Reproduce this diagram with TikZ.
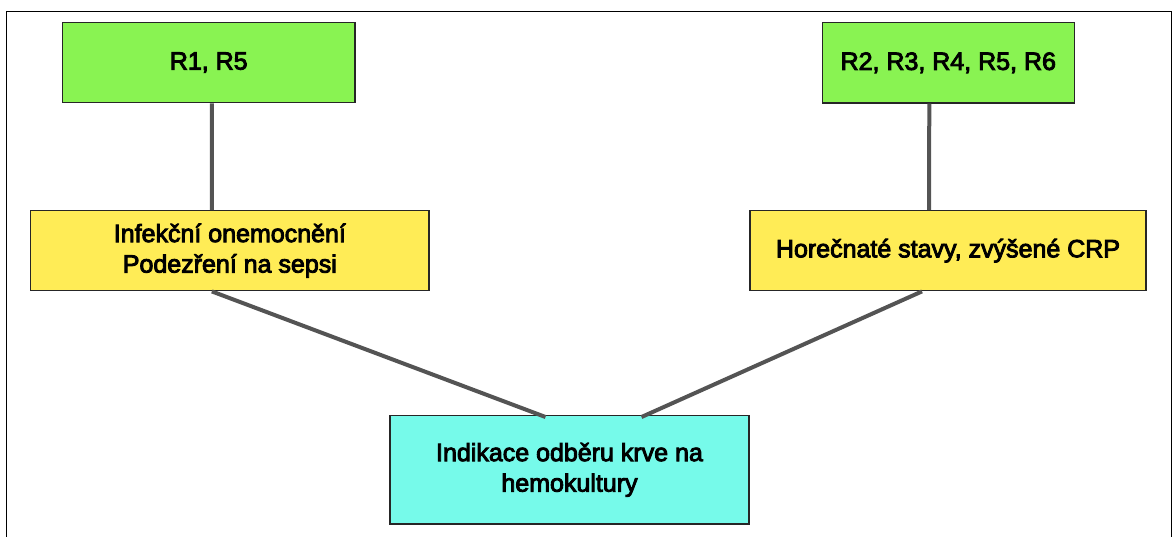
\documentclass[tikz,border=0pt]{standalone}
\usepackage{fontspec}
\setmainfont{Liberation Sans}[FakeBold=3.5]
\begin{document}
\begin{tikzpicture}[x=1pt,y=-1pt,
  box/.style={draw=black!85,line width=1.4pt,inner sep=0pt,align=center,
    font=\fontsize{25}{30.5}\selectfont},
  link/.style={draw=black!67,line width=4pt}]
\definecolor{boxgreen}{RGB}{137,243,82}
\definecolor{boxyellow}{RGB}{255,236,86}
\definecolor{boxcyan}{RGB}{118,250,234}
\useasboundingbox (0,0) rectangle (1172,536);
% outer frame, open at the bottom
\draw[line width=1.6pt,black] (6.5,545) -- (6.5,11.5) -- (1171.5,11.5) -- (1171.5,545);
% boxes
\node[box,fill=boxgreen,minimum width=292.5,minimum height=80.2] (g1) at (208.75,62.6) {R1, R5};
\node[box,fill=boxgreen,minimum width=252,minimum height=80.5] (g2) at (948.3,62.75) {R2, R3, R4, R5, R6};
\node[box,fill=boxyellow,minimum width=398.3,minimum height=80] (y1) at (229.85,250.7) {Infekční onemocnění\\Podezření na sepsi};
\node[box,fill=boxyellow,minimum width=396,minimum height=80] (y2) at (948,250.7) {Horečnaté stavy, zvýšené CRP};
\node[box,fill=boxcyan,minimum width=359,minimum height=108.3] (c) at (569.5,469.85) {Indikace odběru krve na\\hemokultury};
% connectors
\draw[link] ([xshift=3]g1.south) -- ([xshift=-18]y1.north);
\draw[link] ([xshift=-19]g2.south) -- ([xshift=-19]y2.north);
\draw[link] ([xshift=-18]y1.south) -- ([xshift=-24,yshift=-2]c.north);
\draw[link] ([xshift=-26]y2.south) -- ([xshift=72,yshift=-2]c.north);
\end{tikzpicture}
\end{document}
